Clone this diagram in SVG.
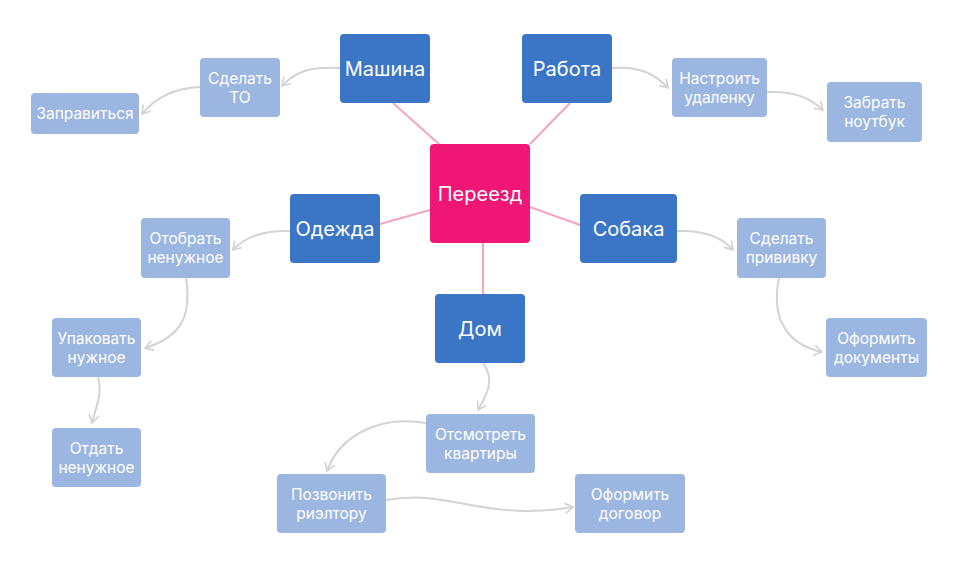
<svg xmlns="http://www.w3.org/2000/svg" width="957" height="569" viewBox="0 0 957 569">
<defs>
<marker id="arr" viewBox="0 0 10 12" markerWidth="10" markerHeight="12" refX="9" refY="6" orient="auto" markerUnits="userSpaceOnUse">
<path d="M1,1 L9,6 L1,11" fill="none" stroke="#d3d3d3" stroke-width="1.6"/>
</marker>
<style>
.main{fill:#3b75c5}
.sub{fill:#9bb6e0}
.center{fill:#ef1675}
text{font-family:Inter,"Noto Sans","Liberation Sans",sans-serif;fill:#ffffff;text-anchor:middle;dominant-baseline:central}
.t1{font-size:20px}
.t2{font-size:15.5px}
.pl{stroke:#f3a3c3;stroke-width:2;fill:none}
.gl{stroke:#d3d3d3;stroke-width:2;fill:none;marker-end:url(#arr)}
</style>
</defs>
<rect width="957" height="569" fill="#ffffff"/>
<g id="connectors">
<line class="pl" x1="393" y1="103" x2="440" y2="145"/>
<line class="pl" x1="570" y1="103" x2="530" y2="144"/>
<line class="pl" x1="380" y1="224" x2="430" y2="210"/>
<line class="pl" x1="530" y1="207" x2="580" y2="225"/>
<line class="pl" x1="483" y1="243" x2="483" y2="294"/>
<path class="gl" d="M340,68 C310,66 295,72 282,86"/>
<path class="gl" d="M200,87 C175,88 155,98 142,114"/>
<path class="gl" d="M612,68 C640,66 655,74 668,88"/>
<path class="gl" d="M767,92 C795,91 810,98 823,110"/>
<path class="gl" d="M290,231 C262,230 245,237 233,250"/>
<path class="gl" d="M186,278 C192,318 180,337 145,348"/>
<path class="gl" d="M98,377 C103,395 96,405 92,423"/>
<path class="gl" d="M677,231 C705,230 722,237 733,250"/>
<path class="gl" d="M779,278 C770,322 790,345 822,352"/>
<path class="gl" d="M483,363 C496,380 486,396 478,410"/>
<path class="gl" d="M426,423 C380,415 340,435 327,471"/>
<path class="gl" d="M386,500 C450,488 480,522 573,507"/>
</g>
<g id="n-pereezd"><rect class="center" x="430" y="144" width="100" height="99" rx="4"/><text class="t1" x="480" y="194">Переезд</text></g>
<g id="n-mashina"><rect class="main" x="340" y="34" width="90" height="69" rx="4"/><text class="t1" x="385" y="69">Машина</text></g>
<g id="n-rabota"><rect class="main" x="522" y="34" width="90" height="69" rx="4"/><text class="t1" x="567" y="69">Работа</text></g>
<g id="n-odezhda"><rect class="main" x="290" y="194" width="90" height="69" rx="4"/><text class="t1" x="335" y="229">Одежда</text></g>
<g id="n-sobaka"><rect class="main" x="580" y="194" width="97" height="69" rx="4"/><text class="t1" x="628.5" y="229">Собака</text></g>
<g id="n-dom"><rect class="main" x="435" y="294" width="90" height="69" rx="4"/><text class="t1" x="480" y="329">Дом</text></g>
<g id="n-sdelat-to"><rect class="sub" x="200" y="58" width="80" height="59" rx="4"/><text class="t2" x="240" y="78">Сделать</text><text class="t2" x="240" y="97">ТО</text></g>
<g id="n-zapravitsya"><rect class="sub" x="31" y="93" width="108" height="41" rx="4"/><text class="t2" x="85" y="113.5">Заправиться</text></g>
<g id="n-nastroit"><rect class="sub" x="672" y="58" width="95" height="59" rx="4"/><text class="t2" x="719.5" y="78">Настроить</text><text class="t2" x="719.5" y="97">удаленку</text></g>
<g id="n-zabrat"><rect class="sub" x="827" y="82" width="95" height="60" rx="4"/><text class="t2" x="874.5" y="102">Забрать</text><text class="t2" x="874.5" y="121">ноутбук</text></g>
<g id="n-otobrat"><rect class="sub" x="141" y="218" width="89" height="60" rx="4"/><text class="t2" x="185.5" y="238">Отобрать</text><text class="t2" x="185.5" y="257">ненужное</text></g>
<g id="n-upakovat"><rect class="sub" x="52" y="318" width="89" height="59" rx="4"/><text class="t2" x="96.5" y="338">Упаковать</text><text class="t2" x="96.5" y="357">нужное</text></g>
<g id="n-otdat"><rect class="sub" x="52" y="428" width="89" height="59" rx="4"/><text class="t2" x="96.5" y="448">Отдать</text><text class="t2" x="96.5" y="467">ненужное</text></g>
<g id="n-privivka"><rect class="sub" x="737" y="218" width="89" height="60" rx="4"/><text class="t2" x="781.5" y="238">Сделать</text><text class="t2" x="781.5" y="257">прививку</text></g>
<g id="n-dokumenty"><rect class="sub" x="826" y="318" width="101" height="59" rx="4"/><text class="t2" x="876.5" y="338">Оформить</text><text class="t2" x="876.5" y="357">документы</text></g>
<g id="n-otsmotret"><rect class="sub" x="426" y="414" width="109" height="59" rx="4"/><text class="t2" x="480.5" y="434">Отсмотреть</text><text class="t2" x="480.5" y="453">квартиры</text></g>
<g id="n-pozvonit"><rect class="sub" x="277" y="474" width="109" height="59" rx="4"/><text class="t2" x="331.5" y="494">Позвонить</text><text class="t2" x="331.5" y="513">риэлтору</text></g>
<g id="n-dogovor"><rect class="sub" x="575" y="474" width="110" height="59" rx="4"/><text class="t2" x="630" y="494">Оформить</text><text class="t2" x="630" y="513">договор</text></g>
</svg>
